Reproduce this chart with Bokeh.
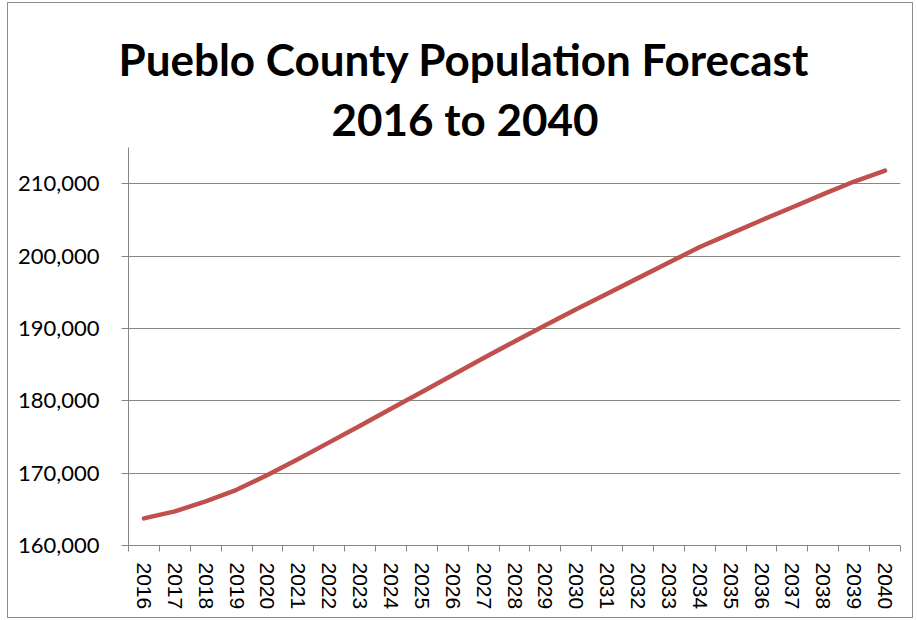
import numpy as np
from bokeh.plotting import figure
from bokeh.models import Range1d, FixedTicker, NumeralTickFormatter, BasicTickFormatter, Title
from bokeh.embed import file_html
from bokeh.resources import INLINE

# ---- data ----
years = list(range(2016, 2041))
population = [163745, 164716, 166100, 167700, 169750, 171950, 174250, 176550,
              178900, 181200, 183550, 185900, 188200, 190450, 192650, 194800,
              196950, 199100, 201250, 203100, 204950, 206750, 208550, 210300,
              211800]
y_ticks = [160000, 170000, 180000, 190000, 200000, 210000]
y_min, y_max = 160000, 215000
title_line1 = "Pueblo County Population Forecast"
title_line2 = "2016 to 2040"

GRAY = "#868686"
LINE = "#C0504D"

p = figure(width=906, height=616, output_backend="svg", toolbar_location=None,
           x_range=Range1d(years[0] - 0.5, years[-1] + 0.5),
           y_range=Range1d(y_min, y_max),
           min_border_left=120, min_border_right=14, min_border_top=144,
           min_border_bottom=74)
p.outline_line_color = None
p.background_fill_color = "white"
p.border_fill_color = "white"
p.styles = {"border": "1px solid #8c8c8c", "margin-left": "7px", "margin-top": "2px"}

p.line(years, population, line_width=4.5, color=LINE, line_cap="round", line_join="round")

# y axis
p.yaxis.ticker = FixedTicker(ticks=y_ticks)
p.yaxis.formatter = NumeralTickFormatter(format="0,0")
p.yaxis.axis_line_color = GRAY
p.yaxis.major_tick_line_color = GRAY
p.yaxis.major_tick_out = 7
p.yaxis.major_tick_in = 0
p.yaxis.minor_tick_line_color = None
p.yaxis.major_label_standoff = 22
p.yaxis.major_label_text_font = "Lato"
p.yaxis.major_label_text_font_size = "22px"
p.yaxis.major_label_text_color = "black"

# x axis: labels at year centers, ticks at boundaries (minor ticks)
bounds = [y - 0.5 for y in years] + [years[-1] + 0.5]
p.xaxis.ticker = FixedTicker(ticks=years, minor_ticks=bounds)
p.xaxis.formatter = BasicTickFormatter(use_scientific=False)
p.xaxis.axis_line_color = GRAY
p.xaxis.major_tick_out = 0
p.xaxis.major_tick_in = 0
p.xaxis.minor_tick_line_color = GRAY
p.xaxis.minor_tick_out = 6
p.xaxis.minor_tick_in = 0
p.xaxis.major_label_orientation = -np.pi / 2
p.xaxis.major_label_standoff = 11
p.xaxis.major_label_text_font = "Liberation Sans"
p.xaxis.major_label_text_font_size = "21px"
p.xaxis.major_label_text_color = "black"

p.xgrid.grid_line_color = None
p.ygrid.ticker = FixedTicker(ticks=y_ticks)
p.ygrid.grid_line_color = GRAY
p.ygrid.grid_line_width = 1

# title (two lines): added nearest-first
for txt, off in [(title_line2, 203), (title_line1, -10)]:
    p.add_layout(Title(text=txt, align="left", offset=off,
                       text_font="Lato", text_font_style="bold",
                       text_font_size="44px", text_color="black",
                       standoff=6), "above")

open("out.html", "w").write(file_html(p, INLINE))
